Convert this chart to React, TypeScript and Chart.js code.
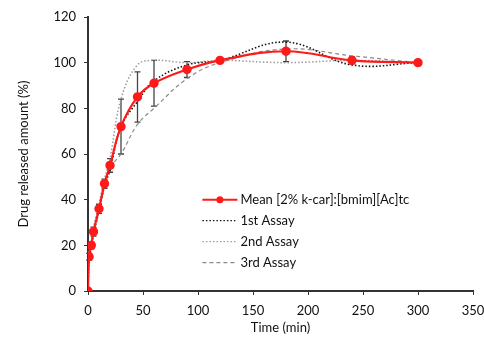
import React, { useEffect, useRef } from "react";
import { Chart, registerables } from "chart.js";

Chart.register(...registerables);

const times = [0, 1, 3, 5, 10, 15, 20, 30, 45, 60, 90, 120, 180, 240, 300];
const meanRelease = [0, 15, 20, 26, 36, 47, 55, 72, 85, 91, 97, 101, 105, 101, 100];
const meanError = [0, 1.5, 1.5, 2, 2, 2, 3, 12, 11, 10, 3.5, 1, 4.5, 1.5, 0.5];
const assay1 = [0, 14, 19, 25, 35, 46, 53, 72, 83, 92, 99, 101, 109, 99, 100];
const assay2 = [0, 17, 22, 28, 38, 49, 58, 84, 99, 101, 100, 101, 100, 101, 100];
const assay3 = [0, 14, 19, 25, 35, 46, 54, 60, 73, 80, 93, 100, 106, 103, 100];

const seriesLabels = [
  "Mean [2% k-car]:[bmim][Ac]tc",
  "1st Assay",
  "2nd Assay",
  "3rd Assay",
];

const FONT = "Lato, 'Open Sans', sans-serif";

const toPoints = (ys: number[]) => times.map((t, i) => ({ x: t, y: ys[i] }));

const errorBarPlugin = {
  id: "errorBars",
  beforeDatasetsDraw(chart: any) {
    const { ctx, scales } = chart;
    const xs = scales.x;
    const ys = scales.y;
    ctx.save();
    ctx.strokeStyle = "#444";
    ctx.lineWidth = 1.3;
    times.forEach((t, i) => {
      const e = meanError[i];
      if (!e) return;
      const px = xs.getPixelForValue(t);
      const top = ys.getPixelForValue(meanRelease[i] + e);
      const bot = ys.getPixelForValue(meanRelease[i] - e);
      ctx.beginPath();
      ctx.moveTo(px, top);
      ctx.lineTo(px, bot);
      ctx.moveTo(px - 3, top);
      ctx.lineTo(px + 3, top);
      ctx.moveTo(px - 3, bot);
      ctx.lineTo(px + 3, bot);
      ctx.stroke();
    });
    ctx.restore();
  },
};

const legendPlugin = {
  id: "insideLegend",
  afterDatasetsDraw(chart: any) {
    const { ctx, scales } = chart;
    const x0 = scales.x.getPixelForValue(104);
    const y0 = scales.y.getPixelForValue(40);
    const rowH = 21;
    const lineW = 35;
    ctx.save();
    ctx.font = `13px ${FONT}`;
    ctx.textBaseline = "middle";
    ctx.fillStyle = "#111";
    chart.data.datasets.forEach((ds: any, i: number) => {
      const y = y0 + i * rowH;
      ctx.save();
      ctx.strokeStyle = ds.borderColor;
      ctx.lineWidth = i === 0 ? 2 : 1.3;
      ctx.setLineDash(ds.borderDash || []);
      ctx.beginPath();
      ctx.moveTo(x0, y);
      ctx.lineTo(x0 + lineW, y);
      ctx.stroke();
      ctx.restore();
      if (i === 0) {
        ctx.beginPath();
        ctx.fillStyle = ds.backgroundColor;
        ctx.arc(x0 + lineW / 2, y, 3.5, 0, Math.PI * 2);
        ctx.fill();
        ctx.fillStyle = "#111";
      }
      ctx.fillText(seriesLabels[i], x0 + lineW + 3, y);
    });
    ctx.restore();
  },
};

export default function App() {
  const ref = useRef<HTMLCanvasElement | null>(null);
  useEffect(() => {
    if (!ref.current) return;
    const chart = new Chart(ref.current, {
      type: "line",
      data: {
        datasets: [
          {
            label: seriesLabels[0],
            data: toPoints(meanRelease),
            borderColor: "#ff1a1a",
            backgroundColor: "#ff1a1a",
            borderWidth: 2.2,
            pointRadius: 3.6,
            pointBackgroundColor: "#ff1a1a",
            pointBorderColor: "#ff1a1a",
            tension: 0.4,
          },
          {
            label: seriesLabels[1],
            data: toPoints(assay1),
            borderColor: "#111",
            backgroundColor: "#111",
            borderWidth: 1.6,
            borderDash: [1.5, 2],
            pointRadius: 0,
            tension: 0.4,
          },
          {
            label: seriesLabels[2],
            data: toPoints(assay2),
            borderColor: "#9a9a9a",
            backgroundColor: "#9a9a9a",
            borderWidth: 1.5,
            borderDash: [1.5, 2],
            pointRadius: 0,
            tension: 0.4,
          },
          {
            label: seriesLabels[3],
            data: toPoints(assay3),
            borderColor: "#8a8a8a",
            backgroundColor: "#8a8a8a",
            borderWidth: 1.2,
            borderDash: [4, 3],
            pointRadius: 0,
            tension: 0.4,
          },
        ],
      },
      options: {
        animation: false,
        responsive: false,
        maintainAspectRatio: false,
        layout: { padding: { top: 17, right: 11, left: 12, bottom: 16 } },
        plugins: {
          legend: { display: false },
          tooltip: { enabled: false },
        },
        scales: {
          x: {
            type: "linear",
            min: 0,
            max: 350,
            ticks: {
              stepSize: 50,
              color: "#111",
              font: { family: FONT, size: 13 },
              padding: 8,
            },
            grid: {
              drawOnChartArea: false,
              drawTicks: true,
              tickLength: 4,
              color: "#333",
            },
            border: { color: "#333", width: 2 },
            title: {
              display: true,
              text: "Time (min)",
              color: "#111",
              font: { family: FONT, size: 13 },
              padding: { top: 8 },
            },
            afterFit: (s: any) => {
              s.height = 49;
              s.paddingLeft = 0;
              s.paddingRight = 0;
            },
          },
          y: {
            min: 0,
            max: 120,
            ticks: {
              stepSize: 20,
              color: "#111",
              font: { family: FONT, size: 13 },
              padding: 8,
            },
            grid: {
              drawOnChartArea: false,
              drawTicks: true,
              tickLength: 4,
              color: "#333",
            },
            border: { color: "#333", width: 2 },
            title: {
              display: true,
              text: "Drug released amount (%)",
              color: "#111",
              font: { family: FONT, size: 13 },
              padding: { bottom: 8 },
            },
            afterFit: (s: any) => {
              s.width = 76;
              s.paddingTop = 0;
              s.paddingBottom = 0;
            },
          },
        },
      },
      plugins: [errorBarPlugin, legendPlugin],
    });
    return () => chart.destroy();
  }, []);
  return (
    <div style={{ position: "fixed", left: 0, top: 0, width: 484, height: 356, background: "#fff" }}>
      <canvas ref={ref} width={484} height={356} />
    </div>
  );
}
